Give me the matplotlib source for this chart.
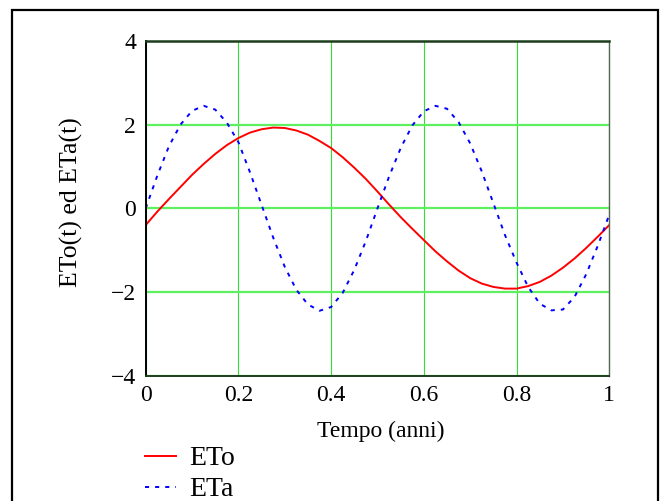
import matplotlib
matplotlib.use('Agg')
import matplotlib.pyplot as plt
from matplotlib.patches import Rectangle

# tempo (anni), passo 0.025
t = [i * 0.025 for i in range(41)]

eto = [-0.40, -0.08, 0.22, 0.51, 0.80, 1.06, 1.30, 1.51, 1.68, 1.81,
       1.89, 1.93, 1.92, 1.86, 1.76, 1.61, 1.44, 1.22, 0.97, 0.70,
       0.40, 0.09, -0.21, -0.49, -0.76, -1.03, -1.27, -1.49, -1.67, -1.80,
       -1.88, -1.92, -1.92, -1.86, -1.76, -1.61, -1.42, -1.20, -0.95, -0.68,
       -0.40]

eta = [0.00, 0.78, 1.48, 2.00, 2.33, 2.45, 2.36, 2.05, 1.58, 0.86,
       0.08, -0.70, -1.40, -1.95, -2.30, -2.45, -2.36, -2.02, -1.47, -0.78,
       0.00, 0.76, 1.44, 1.98, 2.32, 2.45, 2.38, 2.06, 1.55, 0.88,
       0.12, -0.64, -1.30, -1.88, -2.28, -2.44, -2.42, -2.12, -1.58, -0.90,
       -0.15]

xticks = [0, 0.2, 0.4, 0.6, 0.8, 1]
xlabels = ['0', '0.2', '0.4', '0.6', '0.8', '1']
yticks = [-4, -2, 0, 2, 4]
ylabels = ['\u22124', '\u22122', '0', '2', '4']

plt.rcParams['font.family'] = ['Liberation Serif', 'DejaVu Serif']

W, H = 663, 501
fig = plt.figure(figsize=(W / 100, H / 100), dpi=100)
ax = fig.add_axes([145.7 / W, 1 - 375.6 / H, 463.6 / W, 334.6 / H])

ax.plot(t, eto, color='#ff0000', lw=1.4, label='ETo')
ax.plot(t, eta, color='#0000ff', lw=1.4, linestyle=(0, (2.1, 3.1)), label='ETa')

ax.set_xlim(0, 1)
ax.set_ylim(-4, 4)
ax.set_xticks(xticks)
ax.set_xticklabels(xlabels)
ax.set_yticks(yticks)
ax.set_yticklabels(ylabels)
ax.tick_params(length=0, labelsize=17)
ax.tick_params(axis='x', pad=7)
ax.tick_params(axis='y', pad=7)

ax.xaxis.grid(True, color='#33dd33', lw=0.8)
ax.yaxis.grid(True, color='#5ff05f', lw=1.6)
ax.set_axisbelow(True)

ax.spines['left'].set_color('black')
ax.spines['left'].set_linewidth(1.4)
ax.spines['bottom'].set_color('#1e3d1e')
ax.spines['bottom'].set_linewidth(1.4)
ax.spines['top'].set_color('#1e3d1e')
ax.spines['top'].set_linewidth(1.8)
ax.spines['right'].set_color('#556655')
ax.spines['right'].set_linewidth(1.0)

ax.set_xlabel('Tempo (anni)', fontsize=17)
ax.xaxis.label.set_va('center')
ax.xaxis.set_label_coords(0.506, -0.168)
ax.set_ylabel('ETo(t) ed ETa(t)', fontsize=18.5)
ax.yaxis.label.set_va('center')
ax.yaxis.set_label_coords(-0.161, 0.517)

fig.legend(loc='upper left', bbox_to_anchor=(145 / W, 1 - 446 / H),
           frameon=False, fontsize=20, handlelength=1.1,
           handletextpad=0.5, borderpad=0, borderaxespad=0,
           labelspacing=0.2)

# cornice esterna
fig.add_artist(Rectangle((12 / W, -0.1), (658 - 12) / W, (H - 10) / H + 0.1,
                         transform=fig.transFigure, fill=False,
                         edgecolor='black', lw=1.6))

fig.savefig('out.png', dpi=100)
